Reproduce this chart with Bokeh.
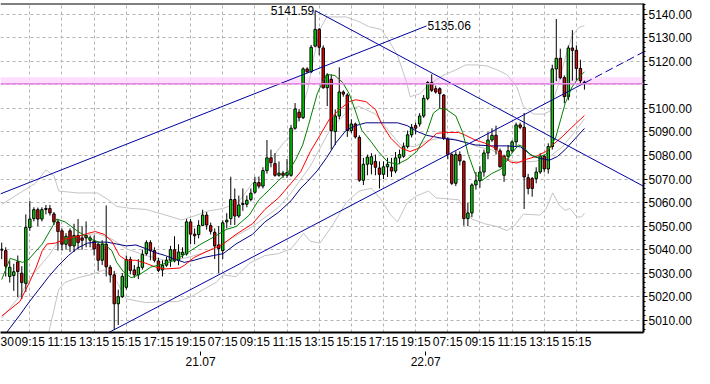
from bokeh.plotting import figure
from bokeh.models import FixedTicker, LinearAxis, Range1d, Label, Span, BoxAnnotation, ColumnDataSource
from bokeh.embed import file_html
from bokeh.resources import INLINE

# ---------------- data (15-minute bars, index = bar number) ----------------
opens = [5040.2, 5039.6, 5028.6, 5029.0, 5034.8, 5030.0, 5025.7, 5049.4, 5053.2, 5057.0,
         5053.0, 5057.5, 5057.5, 5055.2, 5051.8, 5048.0, 5042.3, 5048.0, 5041.6, 5046.0,
         5045.0, 5046.0, 5044.0, 5043.7, 5042.3, 5035.5, 5042.3, 5032.5, 5029.3, 5017.0,
         5020.0, 5024.0, 5035.8, 5031.4, 5029.3, 5032.5, 5038.3, 5043.0, 5039.6, 5035.2,
         5031.4, 5033.4, 5035.5, 5040.0, 5035.5, 5037.8, 5038.2, 5051.8, 5046.6, 5046.4,
         5050.3, 5054.7, 5050.2, 5047.4, 5042.0, 5039.6, 5051.8, 5053.2, 5061.3, 5054.3,
         5059.2, 5059.3, 5061.3, 5064.4, 5068.5, 5067.0, 5073.6, 5079.0, 5076.6, 5071.6,
         5072.5, 5071.6, 5071.6, 5091.6, 5098.4, 5096.1, 5116.8, 5115.6, 5126.5, 5133.6,
         5125.7, 5108.8, 5112.4, 5090.2, 5096.8, 5107.0, 5105.7, 5090.6, 5093.4, 5087.7,
         5069.5, 5076.3, 5076.3, 5077.5, 5074.7, 5072.0, 5075.2, 5075.0, 5073.4, 5079.0,
         5079.7, 5083.8, 5088.8, 5092.7, 5093.4, 5096.8, 5104.3, 5111.0, 5108.4, 5108.4,
         5105.7, 5087.0, 5080.4, 5068.2, 5080.4, 5077.5, 5053.2, 5055.6, 5067.5, 5069.3,
         5073.0, 5081.1, 5086.6, 5088.6, 5082.0, 5071.6, 5079.7, 5082.0, 5085.8, 5093.0,
         5092.0, 5070.6, 5070.2, 5070.2, 5073.0, 5079.7, 5074.3, 5083.8, 5116.8, 5121.3,
         5113.1, 5105.0, 5125.7, 5124.7, 5117.0, 5111.2]
highs = [5043.0, 5041.0, 5035.4, 5034.0, 5037.5, 5033.0, 5055.0, 5060.7, 5058.0, 5057.9,
         5058.0, 5059.0, 5059.0, 5056.0, 5053.0, 5049.0, 5047.0, 5049.0, 5051.0, 5053.0,
         5050.0, 5052.0, 5046.0, 5046.0, 5043.0, 5044.0, 5058.8, 5033.5, 5031.0, 5023.0,
         5030.0, 5037.5, 5037.0, 5033.5, 5036.0, 5040.0, 5044.0, 5044.0, 5041.0, 5036.5,
         5035.5, 5037.0, 5041.6, 5045.7, 5042.3, 5041.0, 5053.0, 5053.0, 5049.0, 5052.5,
         5057.0, 5056.0, 5051.5, 5049.0, 5050.0, 5052.5, 5055.5, 5071.0, 5066.0, 5063.0,
         5066.0, 5063.0, 5066.0, 5071.0, 5071.0, 5075.0, 5086.6, 5082.5, 5081.0, 5077.5,
         5073.5, 5078.5, 5093.0, 5102.3, 5099.8, 5117.5, 5117.5, 5127.0, 5141.59, 5134.2,
         5126.8, 5115.0, 5114.5, 5099.6, 5117.5, 5107.7, 5106.5, 5095.4, 5094.0, 5088.6,
         5079.0, 5080.4, 5081.0, 5080.4, 5077.5, 5077.5, 5079.0, 5079.0, 5081.5, 5082.5,
         5085.5, 5090.6, 5093.4, 5094.0, 5098.0, 5105.7, 5111.6, 5114.5, 5109.7, 5109.0,
         5106.1, 5087.7, 5081.0, 5081.8, 5081.8, 5078.0, 5060.0, 5068.2, 5073.0, 5075.5,
         5082.5, 5089.9, 5091.6, 5092.7, 5083.0, 5080.4, 5084.5, 5086.5, 5094.0, 5094.0,
         5098.1, 5072.2, 5070.9, 5075.0, 5081.0, 5080.4, 5085.2, 5118.6, 5138.0, 5125.4,
         5114.0, 5126.8, 5133.3, 5126.8, 5120.7, 5111.8]
lows = [5036.0, 5028.6, 5026.0, 5022.5, 5019.8, 5019.0, 5022.0, 5048.0, 5052.0, 5050.0,
        5052.0, 5055.0, 5054.5, 5050.5, 5039.6, 5039.6, 5040.0, 5039.0, 5039.0, 5040.0,
        5040.0, 5041.0, 5041.0, 5037.5, 5031.0, 5033.5, 5028.6, 5026.0, 5006.0, 5008.0,
        5019.5, 5023.0, 5029.5, 5028.0, 5027.5, 5031.5, 5037.5, 5035.5, 5034.6, 5030.5,
        5028.6, 5032.7, 5032.7, 5034.6, 5033.4, 5036.5, 5037.5, 5042.3, 5042.3, 5044.8,
        5050.0, 5048.5, 5046.5, 5036.0, 5030.0, 5036.0, 5049.0, 5050.5, 5050.5, 5053.5,
        5056.5, 5058.0, 5060.5, 5063.8, 5066.0, 5066.0, 5072.3, 5075.0, 5071.0, 5071.0,
        5070.5, 5070.5, 5071.0, 5091.0, 5094.5, 5095.5, 5115.0, 5115.0, 5126.0, 5122.6,
        5108.4, 5101.0, 5082.5, 5084.5, 5095.4, 5105.0, 5087.9, 5089.5, 5087.2, 5068.8,
        5067.5, 5071.6, 5072.0, 5071.6, 5066.0, 5070.0, 5070.9, 5070.9, 5072.5, 5076.3,
        5079.0, 5083.0, 5087.7, 5089.0, 5092.3, 5096.0, 5103.5, 5107.0, 5106.3, 5100.0,
        5086.6, 5078.4, 5067.5, 5067.0, 5075.8, 5050.2, 5050.0, 5053.8, 5065.5, 5066.3,
        5071.0, 5078.4, 5085.8, 5080.4, 5074.9, 5068.8, 5077.7, 5081.1, 5083.8, 5091.2,
        5057.3, 5063.5, 5062.5, 5068.2, 5072.2, 5072.9, 5072.3, 5082.5, 5111.6, 5112.4,
        5102.2, 5103.5, 5111.8, 5111.8, 5110.6, 5108.0]
closes = [5039.8, 5033.0, 5032.5, 5030.6, 5030.7, 5026.0, 5049.4, 5053.0, 5057.0, 5053.0,
          5057.0, 5057.1, 5055.6, 5051.8, 5047.7, 5042.3, 5045.7, 5041.6, 5046.0, 5043.0,
          5044.0, 5045.0, 5045.0, 5040.3, 5035.5, 5042.3, 5032.7, 5029.3, 5017.0, 5020.0,
          5028.6, 5035.8, 5031.2, 5029.3, 5032.5, 5038.0, 5043.0, 5039.6, 5035.5, 5031.2,
          5033.4, 5035.5, 5040.0, 5035.2, 5039.0, 5038.9, 5051.8, 5046.6, 5045.9, 5050.3,
          5054.7, 5050.5, 5047.8, 5041.6, 5040.5, 5051.4, 5052.5, 5061.3, 5054.3, 5059.0,
          5059.6, 5061.0, 5064.0, 5068.5, 5067.0, 5073.6, 5079.0, 5077.0, 5071.6, 5072.5,
          5071.6, 5072.8, 5091.6, 5099.8, 5096.1, 5116.8, 5115.6, 5126.0, 5133.6, 5126.0,
          5108.8, 5114.2, 5090.6, 5096.8, 5107.0, 5106.1, 5090.6, 5093.4, 5087.9, 5069.5,
          5076.3, 5079.3, 5079.5, 5075.0, 5072.0, 5075.2, 5076.3, 5073.4, 5079.0, 5080.4,
          5083.8, 5088.8, 5092.0, 5091.6, 5096.8, 5104.3, 5111.0, 5107.7, 5107.0, 5106.3,
          5087.3, 5080.4, 5068.2, 5080.4, 5077.7, 5053.2, 5055.6, 5067.5, 5069.3, 5073.0,
          5081.1, 5086.6, 5088.6, 5082.5, 5075.2, 5079.7, 5082.0, 5085.8, 5093.0, 5092.0,
          5070.9, 5066.0, 5066.0, 5073.0, 5079.7, 5074.3, 5083.8, 5116.8, 5121.3, 5113.1,
          5105.0, 5125.7, 5124.7, 5117.0, 5111.8, 5110.8]

# short moving average (green)
green_x = [0, 2.1, 5.2, 6.5, 10.1, 13.7, 15.8, 19.0, 22.1, 25.5, 27.4, 28.6, 30.3, 32.2, 34.2,
           37.1, 40.0, 43.1, 46.2, 49.6, 52.7, 55.9, 58.3, 61.6, 64.0, 66.5, 68.9, 71.3, 73.2,
           74.9, 76.3, 78.5, 80.0, 81.2, 82.9, 84.8, 86.5, 88.2, 89.6, 92.0, 93.7, 96.1, 98.5,
           100.9, 103.3, 105.7, 107.4, 108.9, 110.6, 113.0, 114.7, 116.1, 117.8, 119.5, 121.9,
           124.3, 126.7, 128.6, 129.8, 131.5, 133.4, 135.4, 137.8, 140.2, 141.9, 143.6, 145.0]
green_y = [5027.3, 5036.3, 5034.6, 5035.5, 5042.4, 5053.0, 5051.8, 5047.7, 5044.5, 5042.4,
           5039.6, 5034.6, 5030.6, 5028.1, 5029.3, 5032.6, 5033.8, 5035.5, 5038.7, 5042.4,
           5045.3, 5048.6, 5049.8, 5054.7, 5061.2, 5065.3, 5069.4, 5073.1, 5078.4, 5084.5,
           5092.7, 5106.2, 5111.9, 5114.4, 5114.0, 5111.1, 5106.2, 5098.0, 5090.7, 5085.7,
           5081.7, 5077.2, 5076.3, 5078.4, 5081.7, 5089.4, 5098.0, 5100.0, 5099.6, 5096.8,
           5089.8, 5080.4, 5072.3, 5069.4, 5072.3, 5074.3, 5080.4, 5084.5, 5083.7, 5080.4,
           5079.2, 5080.4, 5087.4, 5102.1, 5109.1, 5113.1, 5115.6]

# medium moving average (red)
red_x = [0, 4.5, 6.9, 8.6, 10.1, 11.3, 13.4, 15.8, 19.0, 21.4, 23.3, 25.5, 27.4, 29.3, 31.0,
         33.4, 35.9, 38.3, 40.7, 44.3, 45.5, 47.9, 50.3, 52.7, 55.1, 58.3, 62.4, 65.5, 68.9,
         72.0, 74.4, 76.8, 79.2, 81.6, 84.1, 86.5, 88.1, 90.6, 93.0, 94.4, 96.8, 99.2, 101.6,
         104.1, 106.5, 108.2, 110.6, 113.7, 115.4, 117.8, 120.2, 122.6, 125.0, 126.7, 128.2,
         130.6, 133.0, 135.4, 137.1, 139.5, 141.9, 145.0]
red_y = [5011.8, 5017.9, 5026.1, 5032.6, 5039.6, 5042.4, 5042.8, 5044.5, 5045.7, 5046.9,
         5047.7, 5046.5, 5043.6, 5037.5, 5035.5, 5035.5, 5034.2, 5032.6, 5031.8, 5032.2,
         5033.4, 5036.7, 5038.7, 5040.4, 5042.4, 5046.5, 5051.0, 5057.1, 5062.0, 5068.2,
         5073.1, 5081.7, 5088.6, 5095.6, 5099.6, 5102.9, 5103.7, 5102.9, 5099.6, 5093.9,
         5087.4, 5083.3, 5081.7, 5083.3, 5086.6, 5089.4, 5089.8, 5089.8, 5088.6, 5086.6,
         5085.3, 5083.3, 5079.2, 5077.2, 5076.8, 5078.4, 5079.6, 5081.7, 5084.5, 5088.0,
         5092.0, 5097.0]

# long moving average (dark blue)
blue_x = [0, 2.1, 4.5, 6.9, 9.3, 11.7, 14.2, 16.6, 19.0, 21.4, 23.8, 26.2, 28.6, 31.0, 33.4,
          35.9, 38.3, 40.7, 43.1, 45.5, 47.9, 50.3, 52.7, 55.1, 58.3, 62.4, 65.5, 68.9, 72.0,
          74.4, 76.1, 78.5, 80.9, 83.3, 85.7, 88.1, 90.6, 93.7, 96.1, 98.5, 100.9, 103.3,
          105.7, 109.4, 113.0, 117.8, 121.9, 125.7, 129.1, 130.6, 132.3, 134.0, 136.3, 138.3,
          140.2, 141.9, 145.0]
blue_y = [5002.0, 5006.8, 5012.2, 5017.9, 5023.2, 5028.5, 5033.4, 5037.5, 5040.8, 5042.8,
          5043.2, 5043.2, 5042.4, 5041.6, 5042.0, 5040.4, 5038.7, 5037.5, 5035.9, 5034.6,
          5035.5, 5036.7, 5037.5, 5038.3, 5042.4, 5046.5, 5051.8, 5055.9, 5060.8, 5066.1,
          5069.0, 5073.5, 5079.2, 5085.7, 5090.7, 5092.7, 5093.9, 5093.9, 5093.9, 5093.9,
          5092.7, 5090.3, 5088.6, 5087.4, 5086.6, 5084.5, 5084.1, 5084.1, 5083.7, 5081.7,
          5079.6, 5078.8, 5078.0, 5079.6, 5082.5, 5085.7, 5091.5]

# Bollinger bands (grey)
upper_x = [0, 4.5, 8.4, 11.0, 13.0, 14.2, 19.0, 23.8, 26.2, 28.6, 32.2, 35.9, 40.0, 44.8,
           47.9, 51.0, 55.1, 58.8, 62.4, 65.5, 67.9, 70.3, 72.0, 74.4, 76.1, 77.6, 79.2, 80.9,
           85.7, 88.9, 91.3, 94.4, 96.1, 98.5, 100.9, 101.6, 104.0, 106.4, 109.8, 113.0, 115.4,
           118.5, 120.9, 123.3, 125.7, 128.2, 129.8, 132.3, 134.7, 136.4, 138.3, 140.2, 141.9,
           143.6, 145.0]
upper_y = [5059.2, 5064.1, 5068.2, 5073.9, 5071.4, 5064.9, 5064.1, 5064.1, 5061.6, 5058.4,
           5057.5, 5057.1, 5055.1, 5052.6, 5054.3, 5056.3, 5057.5, 5060.0, 5068.2, 5073.5,
           5080.4, 5085.7, 5088.2, 5098.0, 5107.8, 5121.3, 5133.6, 5138.9, 5138.9, 5136.9,
           5134.8, 5133.6, 5129.5, 5122.5, 5110.3, 5105.0, 5106.2, 5110.3, 5114.0, 5116.4,
           5118.5, 5118.5, 5118.0, 5116.4, 5114.4, 5109.1, 5100.9, 5097.6, 5097.6, 5098.8,
           5109.1, 5121.3, 5130.7, 5134.4, 5135.2]
middle_x = [0, 4.5, 6.9, 9.3, 11.7, 14.2, 19.0, 23.8, 27.4, 31.0, 35.9, 40.7, 45.5, 50.3, 55.1,
            62.4, 68.9, 72.0, 76.8, 81.6, 86.5, 88.9, 93.0, 96.8, 99.2, 102.6, 105.7, 110.6,
            115.4, 118.5, 121.9, 125.0, 127.4, 129.8, 133.0, 136.4, 139.5, 141.9, 145.0]
middle_y = [5010.9, 5020.3, 5027.3, 5032.6, 5037.5, 5043.6, 5045.7, 5046.9, 5044.5, 5040.4,
            5037.5, 5035.5, 5036.3, 5038.7, 5042.8, 5049.8, 5058.0, 5064.1, 5075.5, 5090.7,
            5099.6, 5100.9, 5097.6, 5089.4, 5084.5, 5083.7, 5086.2, 5087.8, 5085.7, 5083.7,
            5082.5, 5079.2, 5077.6, 5077.2, 5077.6, 5079.6, 5083.7, 5088.6, 5095.6]
lower_x = [10.5, 11.7, 14.2, 15.8, 19.0, 22.1, 25.5, 28.6, 31.0, 35.9, 40.0, 43.8, 47.2, 50.3,
           53.4, 55.1, 58.3, 61.6, 65.5, 68.9, 72.0, 75.1, 76.8, 79.2, 82.4, 85.7, 88.9, 92.0,
           94.4, 96.8, 98.5, 100.9, 103.3, 106.2, 108.1, 113.7, 117.0, 120.2, 123.3, 125.7,
           127.4, 129.8, 133.9, 135.4, 137.1, 138.8, 140.2, 141.4, 143.1, 144.3, 145.0]
lower_y = [4998.7, 5004.8, 5023.2, 5026.1, 5028.1, 5029.3, 5031.4, 5026.5, 5019.1, 5017.5,
           5017.9, 5017.9, 5020.0, 5023.2, 5026.1, 5029.3, 5028.5, 5034.2, 5037.5, 5038.3,
           5040.4, 5046.9, 5043.6, 5042.8, 5050.6, 5060.0, 5064.9, 5066.1, 5061.2, 5054.7,
           5051.8, 5060.0, 5062.9, 5064.9, 5062.0, 5061.2, 5053.0, 5051.0, 5049.8, 5048.1,
           5049.8, 5055.1, 5054.7, 5057.1, 5064.1, 5058.8, 5056.7, 5057.5, 5053.9, 5053.9,
           5055.5]

# trend lines (anchor points)
trend_up_x = [-0.3, 105.7]
trend_up_y = [5063.7, 5135.06]
trend_down_x = [78, 159.7]
trend_down_y = [5141.59, 5066.95]
trend_low_x = [26.5, 145.0]
trend_low_y = [5004.66, 5110.8]
trend_low_ext_x = [145.0, 159.7]
trend_low_ext_y = [5110.8, 5124.0]

level_price = 5110.50

# axis ticks
time_ticks = [7, 15, 23, 31, 39, 47, 55, 63, 71, 79, 87, 95, 103, 111, 119, 127, 135, 143]
time_labels = ["09:15", "11:15", "13:15", "15:15", "17:15", "19:15", "07:15", "09:15",
               "11:15", "13:15", "15:15", "17:15", "19:15", "07:15", "09:15", "11:15",
               "13:15", "15:15"]
cut_tick = 0.75         # partly hidden label at the left edge
cut_label = "30"
day_ticks = [49.5, 105.5]
day_labels = ["21.07", "22.07"]
price_ticks = list(range(5010, 5141, 10))

# ---------------- figure ----------------
FONT = "Liberation Sans"
p = figure(width=694, height=368, output_backend="svg", toolbar_location=None,
           x_range=Range1d(-0.3, 159.7), y_range=Range1d(5004.8, 5144.6),
           y_axis_location="right", min_border_left=0, min_border_top=3,
           min_border_right=0, min_border_bottom=0)
p.outline_line_color = None
p.background_fill_color = "white"
p.border_fill_color = "white"

for g in (p.xgrid[0], p.ygrid[0]):
    g.grid_line_color = "#b4b4b4"
    g.grid_line_dash = "3 3"
    g.grid_line_width = 1
p.xgrid[0].ticker = FixedTicker(ticks=time_ticks, minor_ticks=[])

xa = p.xaxis[0]
xa.ticker = FixedTicker(ticks=[cut_tick] + time_ticks, minor_ticks=[])
lab = {t: l for t, l in zip(time_ticks, time_labels)}
lab[cut_tick] = cut_label
xa.major_label_overrides = lab
xa.major_tick_out = 0
xa.major_tick_in = 0
xa.minor_tick_out = 0
xa.minor_tick_in = 0
xa.axis_line_width = 2
xa.axis_line_color = "black"
xa.major_label_standoff = 2
xa.major_label_text_font = FONT
xa.major_label_text_font_size = "12px"
xa.major_label_text_color = "black"

da = LinearAxis(ticker=FixedTicker(ticks=day_ticks, minor_ticks=[]),
                major_label_overrides={t: l for t, l in zip(day_ticks, day_labels)})
da.axis_line_color = None
da.major_tick_out = 4
da.major_tick_in = 0
da.minor_tick_out = 0
da.minor_tick_in = 0
da.major_tick_line_color = "black"
da.major_label_standoff = 1
da.major_label_text_font = FONT
da.major_label_text_font_size = "12px"
da.major_label_text_color = "black"
p.add_layout(da, "below")

ya = p.yaxis[0]
ya.ticker = FixedTicker(ticks=price_ticks, minor_ticks=list(range(5006, 5145, 2)))
overrides = {v: f"{v}.00" for v in price_ticks}
overrides[5110] = ""
ya.major_label_overrides = overrides
ya.axis_line_width = 2
ya.axis_line_color = "black"
ya.major_tick_out = 4
ya.major_tick_in = 0
ya.minor_tick_out = 2
ya.minor_tick_in = 0
ya.major_label_standoff = 1
ya.major_label_text_font = FONT
ya.major_label_text_font_size = "12px"
ya.major_label_text_color = "black"

# top border
p.add_layout(Span(location=5144.6, dimension="width", line_color="black", line_width=2))

# level band and line
p.add_layout(BoxAnnotation(bottom=level_price - 0.2, top=level_price + 2.8, fill_color="#ffd6ff",
                           fill_alpha=0.8, line_color=None, level="underlay"))
p.add_layout(Span(location=level_price, dimension="width", line_color="#e585e5", line_width=1.5))

# bands
for xs, ys in ((upper_x, upper_y), (middle_x, middle_y), (lower_x, lower_y)):
    p.line(xs, ys, line_color="#c4c4c4", line_width=1)

# candles
bars = list(range(len(opens)))
tops = [max(o, c) for o, c in zip(opens, closes)]
bots = [min(o, c) for o, c in zip(opens, closes)]
cols = ["black" if abs(c - o) < 0.5 else ("#00e000" if c > o else "#ee0000") for o, c in zip(opens, closes)]
src = ColumnDataSource(dict(x=bars, h=highs, l=lows, top=tops, bottom=bots, color=cols))
p.segment(x0="x", y0="h", x1="x", y1="l", source=src, line_color="black", line_width=1)
p.vbar(x="x", width=0.6, top="top", bottom="bottom", source=src,
       fill_color="color", line_color="black", line_width=1)

# moving averages
p.line(blue_x, blue_y, line_color="#000080", line_width=1)
p.line(red_x, red_y, line_color="#ff0000", line_width=1)
p.line(green_x, green_y, line_color="#008000", line_width=1)

# trend lines
p.line(trend_up_x, trend_up_y, line_color="#0000a0", line_width=1)
p.line(trend_down_x, trend_down_y, line_color="#0000a0", line_width=1)
p.line(trend_low_x, trend_low_y, line_color="#0000a0", line_width=1)
p.line(trend_low_ext_x, trend_low_ext_y, line_color="#0000a0", line_width=1, line_dash="8 4")

# annotations
p.add_layout(Label(x=trend_down_x[0], y=trend_down_y[0], text="5141.59", text_align="right",
                   text_baseline="middle", x_offset=-1, text_font=FONT, text_font_size="12px",
                   text_color="black"))
p.add_layout(Label(x=trend_up_x[1], y=trend_up_y[1], text="5135.06", text_align="left",
                   text_baseline="middle", x_offset=1, text_font=FONT, text_font_size="12px",
                   text_color="black"))
p.add_layout(Label(x=159.7, y=level_price, text="5110.50", text_align="left",
                   text_baseline="middle", x_offset=5, text_font=FONT, text_font_size="12px",
                   text_color="black", background_fill_color="#ffc4ff"))

open("out.html", "w").write(file_html(p, INLINE))
